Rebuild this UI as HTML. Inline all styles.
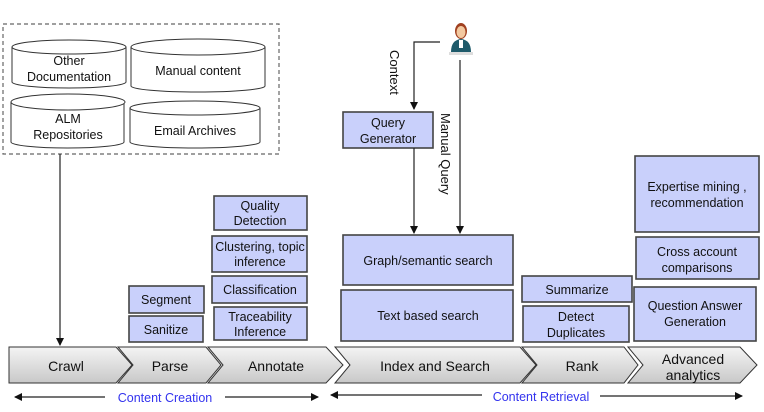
<!DOCTYPE html>
<html><head><style>
body{margin:0;background:#fff;}
svg{display:block;font-family:"Liberation Sans",sans-serif;}
.b{fill:#c9d0fb;stroke:#444;stroke-width:1.6;}
.t{font-size:12.5px;fill:#111;text-anchor:middle;}
.c{fill:url(#g);stroke:#333;stroke-width:1;}
.cy{fill:#fff;stroke:#333;stroke-width:1;}
.l{stroke:#222;stroke-width:1.2;fill:none;}
</style></head><body>
<svg width="764" height="412" viewBox="0 0 764 412">
<defs>
<linearGradient id="g" x1="0" y1="0" x2="0" y2="1"><stop offset="0" stop-color="#f4f4f4"/><stop offset="1" stop-color="#c8c8c8"/></linearGradient>
<marker id="a" markerWidth="8" markerHeight="8" refX="7" refY="4" orient="auto" markerUnits="userSpaceOnUse"><path d="M0,0 L8,4 L0,8z" fill="#111"/></marker>
</defs>
<!-- dashed box -->
<rect x="3" y="24" width="276" height="130" fill="none" stroke="#666" stroke-width="1.2" stroke-dasharray="4,3"/>
<!-- cylinders -->
<g>
<path class="cy" d="M12,47 L12,82 A57,6 0 0 0 126,82 L126,47"/><ellipse class="cy" cx="69" cy="47" rx="57" ry="7"/>
<text class="t" x="69" y="65">Other</text><text class="t" x="69" y="81">Documentation</text>
<path class="cy" d="M131,47 L131,86 A67,6 0 0 0 265,86 L265,47"/><ellipse class="cy" cx="198" cy="47" rx="67" ry="8"/>
<text class="t" x="198" y="75">Manual content</text>
<path class="cy" d="M11,102 L11,142 A56,6 0 0 0 124,142 L124,102"/><ellipse class="cy" cx="68" cy="102" rx="57" ry="8"/>
<text class="t" x="68" y="123">ALM</text><text class="t" x="68" y="139">Repositories</text>
<path class="cy" d="M130,108 L130,142 A65,6 0 0 0 260,142 L260,108"/><ellipse class="cy" cx="195" cy="108" rx="65" ry="7"/>
<text class="t" x="195" y="135">Email Archives</text>
</g>
<line class="l" x1="60" y1="154" x2="60" y2="345" marker-end="url(#a)"/>
<!-- blue boxes -->
<rect class="b" x="129" y="286" width="75" height="27"/><text class="t" x="166" y="304">Segment</text>
<rect class="b" x="129" y="316" width="74" height="26"/><text class="t" x="166" y="334">Sanitize</text>
<rect class="b" x="214" y="196" width="93" height="34"/><text class="t" x="260" y="210">Quality</text><text class="t" x="260" y="225">Detection</text>
<rect class="b" x="212" y="236" width="95" height="36"/><text class="t" x="260" y="251">Clustering, topic</text><text class="t" x="260" y="266">inference</text>
<rect class="b" x="212" y="276" width="95" height="27"/><text class="t" x="260" y="294">Classification</text>
<rect class="b" x="214" y="307" width="93" height="33"/><text class="t" x="260" y="321">Traceability</text><text class="t" x="260" y="336">Inference</text>
<rect class="b" x="343" y="112" width="90" height="36"/><text class="t" x="388" y="127">Query</text><text class="t" x="388" y="143">Generator</text>
<rect class="b" x="343" y="235" width="170" height="50"/><text class="t" x="428" y="265">Graph/semantic search</text>
<rect class="b" x="341" y="290" width="172" height="51"/><text class="t" x="428" y="320">Text based search</text>
<rect class="b" x="522" y="276" width="110" height="26"/><text class="t" x="577" y="294">Summarize</text>
<rect class="b" x="523" y="306" width="106" height="36"/><text class="t" x="576" y="321">Detect</text><text class="t" x="576" y="337">Duplicates</text>
<rect class="b" x="635" y="156" width="124" height="76"/><text class="t" x="697" y="191">Expertise mining ,</text><text class="t" x="697" y="207">recommendation</text>
<rect class="b" x="636" y="237" width="123" height="42"/><text class="t" x="697" y="256">Cross account</text><text class="t" x="697" y="272">comparisons</text>
<rect class="b" x="634" y="287" width="122" height="54"/><text class="t" x="695" y="310">Question Answer</text><text class="t" x="695" y="326">Generation</text>
<!-- person -->
<g transform="translate(448,22)">
<path d="M3,30 Q3,18 13,17 Q23,18 23,30z" fill="#1e5a6a"/>
<ellipse cx="13" cy="9" rx="6" ry="8" fill="#a04020"/>
<ellipse cx="13" cy="10" rx="4.5" ry="6" fill="#f3c9a0"/>
<rect x="11" y="18" width="4" height="8" fill="#fff"/>
<rect x="1" y="30" width="24" height="3" fill="#ddd"/>
</g>
<path class="l" d="M440,42 L414,42 L414,109" marker-end="url(#a)"/>
<line class="l" x1="460" y1="60" x2="460" y2="233" marker-end="url(#a)"/>
<line class="l" x1="414" y1="148" x2="414" y2="233" marker-end="url(#a)"/>
<text transform="translate(390,50) rotate(90)" style="font-size:13px" fill="#111">Context</text>
<text transform="translate(441,113) rotate(90)" style="font-size:13px" fill="#111">Manual Query</text>
<!-- chevrons -->
<path class="c" d="M9,347 L116,347 L132,365 L116,383 L9,383z"/>
<path class="c" d="M118,347 L206,347 L221,365 L206,383 L118,383 L133,365z"/>
<path class="c" d="M208,347 L326,347 L343,365 L326,383 L208,383 L223,365z"/>
<path class="c" d="M335,347 L520,347 L536,365 L520,383 L335,383 L350,365z"/>
<path class="c" d="M522,347 L624,347 L638,365 L624,383 L522,383 L537,365z"/>
<path class="c" d="M628,347 L740,347 L757,365 L740,383 L628,383 L643,365z"/>
<text class="t" x="66" y="371" style="font-size:14px">Crawl</text>
<text class="t" x="170" y="371" style="font-size:14px">Parse</text>
<text class="t" x="276" y="371" style="font-size:14px">Annotate</text>
<text class="t" x="435" y="371" style="font-size:14px">Index and Search</text>
<text class="t" x="582" y="371" style="font-size:14px">Rank</text>
<text class="t" x="693" y="364" style="font-size:14px">Advanced</text>
<text class="t" x="693" y="380" style="font-size:14px">analytics</text>
<!-- bottom arrows -->
<line class="l" x1="105" y1="397" x2="15" y2="397" marker-end="url(#a)"/>
<line class="l" x1="225" y1="397" x2="318" y2="397" marker-end="url(#a)"/>
<text x="165" y="402" style="font-size:12.5px" fill="#3333ee" text-anchor="middle">Content Creation</text>
<line class="l" x1="482" y1="395" x2="331" y2="395" marker-end="url(#a)"/>
<line class="l" x1="600" y1="396" x2="742" y2="396" marker-end="url(#a)"/>
<text x="541" y="401" style="font-size:12.5px" fill="#3333ee" text-anchor="middle">Content Retrieval</text>
</svg>
</body></html>
